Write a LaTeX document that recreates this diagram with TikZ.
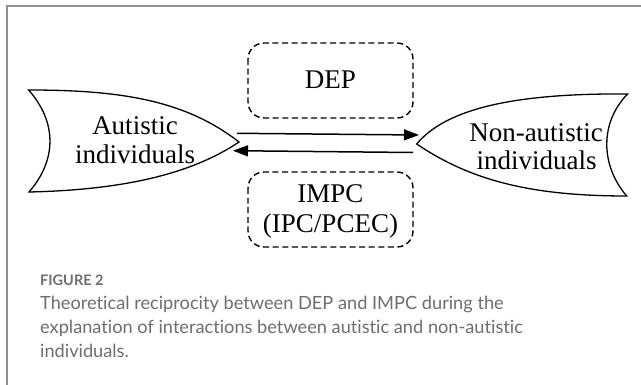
\documentclass[tikz,border=0pt]{standalone}
\usepackage{fontspec}
\setmainfont{Liberation Serif}
\newfontfamily\capfont[Ligatures={NoCommon,NoContextual}]{Lato}
\usetikzlibrary{arrows.meta}
\definecolor{framegray}{HTML}{909090}
\definecolor{capgray}{HTML}{6E6E6E}
\tikzset{
  shapeline/.style={draw=black, line width=1.3pt, line join=miter},
  dashbox/.style={draw=black, line width=1.4pt, dash pattern=on 6pt off 3.6pt, rounded corners=16pt},
  flowarrow/.style={line width=1.5pt, -{Triangle[length=15pt,width=11pt]}},
  lbl/.style={anchor=base, inner sep=0pt, font=\fontsize{27}{30}\selectfont},
  caphead/.style={anchor=base west, inner sep=0pt, text=capgray, font=\capfont\bfseries\fontsize{14.5}{16}\selectfont},
  captext/.style={anchor=base west, inner sep=0pt, text=capgray, font=\capfont\fontsize{18.2}{24}\selectfont}
}
\begin{document}
\begin{tikzpicture}[x=1pt,y=-1pt]
\useasboundingbox[fill=white] (0,0) rectangle (641,385);
% frame
\draw[framegray, line width=2pt] (641,6) -- (6.5,6) -- (6.5,386);
% left shape
\coordinate (LTL) at (28.6,90);
\coordinate (LTIP) at (239,142);
\coordinate (LBL) at (29,192);
\draw[shapeline] (LTL) .. controls (120,90) and (185,100) .. (LTIP)
  .. controls (190,175) and (120,190) .. (LBL)
  .. controls (57,160) and (57,122) .. cycle;
% right shape
\coordinate (RTIP) at (416.7,144);
\coordinate (RTR) at (627.6,94);
\coordinate (RBR) at (626.7,196);
\draw[shapeline] (RTIP) .. controls (445,110) and (510,93) .. (RTR)
  .. controls (600,122) and (600,165) .. (RBR)
  .. controls (530,196) and (470,180) .. cycle;
% dashed boxes
\draw[dashbox] (248,43) rectangle (413,118);
\draw[dashbox] (248,172) rectangle (413,247);
% labels
\node[lbl] (aut1) at (135,135) {Autistic};
\node[lbl] (aut2) at (135,164) {individuals};
\node[lbl] (non1) at (536,141.7) {Non-autistic};
\node[lbl] (non2) at (536.7,170) {individuals};
\node[lbl] (dep) at (330.5,88.3) {DEP};
\node[lbl] (impc1) at (330.5,203) {IMPC};
\node[lbl] (impc2) at (330.5,233) {(IPC/PCEC)};
% arrows
\coordinate (a1s) at (237,133.3);
\coordinate (a1e) at (419,135);
\coordinate (a2s) at (413,152.5);
\coordinate (a2e) at (233,150.7);
\draw[flowarrow] (a1s) -- (a1e);
\draw[flowarrow] (a2s) -- (a2e);
% caption
\node[caphead] (fig) at (40,286) {FIGURE 2};
\node[captext] (c1) at (40,309.3) {Theoretical reciprocity between DEP and IMPC during the};
\node[captext] (c2) at (40,333.3) {explanation of interactions between autistic and non-autistic};
\node[captext] (c3) at (40,357.3) {individuals.};
\end{tikzpicture}
\end{document}
